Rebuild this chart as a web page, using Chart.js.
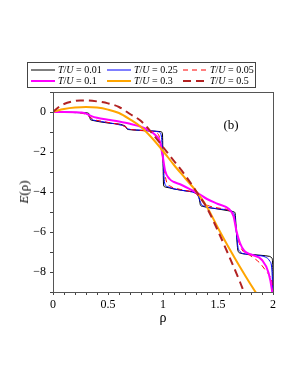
<!DOCTYPE html>
<html>
<head>
<meta charset="utf-8">
<script src="https://cdn.jsdelivr.net/npm/chart.js@4.4.0/dist/chart.umd.min.js"></script>
<style>
  html, body { margin:0; padding:0; background:#fff; }
  #wrap { position:relative; width:298px; height:385px; overflow:hidden; font-family:"Liberation Serif","DejaVu Serif",serif; }
  #c { position:absolute; left:0; top:0; }
  #legend { position:absolute; left:27px; top:62px; width:227px; height:24px; border:1px solid #444; box-sizing:content-box; }
  .item { position:absolute; height:11px; font-size:10px; line-height:11px; white-space:nowrap; color:#000; }
  .item svg { position:absolute; left:0; top:0; }
  .item span { position:absolute; left:28px; top:0; }
  .ytitle { position:absolute; left:24px; top:192px; transform:translate(-50%,-50%) rotate(-90deg); font-size:13px; white-space:nowrap; }
  .xtitle { position:absolute; left:163px; top:318px; transform:translate(-50%,-50%); font-size:14px; }
  .panel { position:absolute; left:231px; top:125px; transform:translate(-50%,-50%); font-size:13px; }
</style>
</head>
<body>
<div id="wrap">
  <canvas id="c" width="298" height="385"></canvas>
  <div id="legend"></div>
  <div class="ytitle"><i>E</i>(ρ)</div>
  <div class="xtitle">ρ</div>
  <div class="panel">(b)</div>
</div>
<script>
// ---- data ----
const seriesLabels = ['0.01', '0.25', '0.05', '0.1', '0.3', '0.5'];

const rho_001 = [0, 0.1, 0.2, 0.3, 0.325, 0.333, 0.34, 0.35, 0.5, 0.65, 0.66, 0.667, 0.675, 0.69, 0.8, 0.9, 0.98, 0.995, 1.0, 1.005, 1.02, 1.1, 1.2, 1.31, 1.325, 1.333, 1.34, 1.36, 1.5, 1.64, 1.655, 1.667, 1.68, 1.7, 1.8, 1.9, 1.97, 1.99, 1.997, 2.0];
const E_001   = [0, -0.01, -0.02, -0.04, -0.07, -0.23, -0.38, -0.41, -0.55, -0.68, -0.72, -0.8, -0.86, -0.88, -0.92, -0.95, -0.98, -1.1, -2.4, -3.65, -3.75, -3.85, -3.94, -4.05, -4.15, -4.45, -4.65, -4.72, -4.85, -4.98, -5.05, -6.0, -6.9, -7.05, -7.12, -7.17, -7.22, -7.3, -7.6, -9.5];

const rho_025 = [0, 0.1, 0.2, 0.28, 0.31, 0.333, 0.355, 0.38, 0.5, 0.62, 0.65, 0.667, 0.685, 0.72, 0.8, 0.9, 0.96, 0.985, 1.0, 1.015, 1.04, 1.1, 1.2, 1.29, 1.315, 1.333, 1.35, 1.38, 1.5, 1.6, 1.64, 1.655, 1.667, 1.68, 1.7, 1.75, 1.85, 1.93, 1.97, 1.99, 2.0];
const E_025   = [0, -0.01, -0.03, -0.05, -0.1, -0.25, -0.38, -0.42, -0.53, -0.66, -0.71, -0.78, -0.85, -0.88, -0.91, -0.95, -0.99, -1.2, -2.4, -3.55, -3.73, -3.84, -3.94, -4.05, -4.15, -4.4, -4.62, -4.72, -4.84, -4.92, -5.05, -5.3, -6.0, -6.7, -6.98, -7.1, -7.17, -7.25, -7.45, -7.9, -9.5];

const rho_005 = [0, 0.1, 0.2, 0.26, 0.3, 0.333, 0.37, 0.42, 0.5, 0.6, 0.64, 0.667, 0.7, 0.75, 0.85, 0.93, 0.97, 1.0, 1.03, 1.07, 1.15, 1.25, 1.3, 1.333, 1.37, 1.42, 1.5, 1.59, 1.62, 1.65, 1.667, 1.69, 1.72, 1.8, 1.88, 1.93, 1.97, 1.99, 2.0];
const E_005   = [0, -0.01, -0.03, -0.06, -0.12, -0.25, -0.37, -0.44, -0.52, -0.62, -0.69, -0.77, -0.86, -0.9, -0.95, -1.02, -1.3, -2.4, -3.45, -3.72, -3.86, -3.98, -4.08, -4.3, -4.55, -4.7, -4.8, -4.9, -5.05, -5.35, -5.9, -6.5, -6.9, -7.2, -7.55, -7.9, -8.2, -8.5, -9.3];

const rho_01 = [0, 0.1, 0.2, 0.26, 0.3, 0.355, 0.4, 0.5, 0.6, 0.7, 0.8, 0.88, 0.93, 0.97, 1.0, 1.02, 1.06, 1.1, 1.15, 1.26, 1.33, 1.4, 1.5, 1.6, 1.64, 1.67, 1.7, 1.74, 1.8, 1.9, 1.96, 1.99, 2.0];
const E_01   = [0, 0.0, -0.01, -0.03, -0.08, -0.22, -0.29, -0.39, -0.48, -0.59, -0.74, -0.95, -1.15, -1.45, -2.3, -2.95, -3.35, -3.5, -3.6, -3.9, -4.1, -4.35, -4.6, -4.85, -5.2, -6.0, -6.55, -6.95, -7.12, -7.4, -8.05, -8.9, -9.5];

const rho_03 = [0, 0.05, 0.1, 0.2, 0.3, 0.4, 0.5, 0.6, 0.7, 0.8, 0.9, 1.0, 1.1, 1.2, 1.3, 1.4, 1.5, 1.6, 1.7, 1.8, 1.9];
const E_03   = [0, 0.09, 0.15, 0.22, 0.25, 0.22, 0.12, -0.05, -0.37, -0.75, -1.3, -1.95, -2.65, -3.3, -3.95, -4.75, -5.8, -6.8, -7.75, -8.65, -9.5];

const rho_05 = [0, 0.05, 0.1, 0.2, 0.25, 0.3, 0.4, 0.5, 0.6, 0.7, 0.8, 0.9, 1.0, 1.1, 1.2, 1.3, 1.4, 1.5, 1.6, 1.7, 1.77];
const E_05   = [0, 0.24, 0.4, 0.55, 0.58, 0.58, 0.53, 0.43, 0.25, -0.1, -0.45, -1.05, -1.75, -2.45, -3.15, -3.95, -4.8, -5.95, -7.2, -8.5, -9.5];

const xTickValues = [0, 0.5, 1, 1.5, 2];
const xTickLabels = ['0', '0.5', '1', '1.5', '2'];
const yTickValues = [-8, -6, -4, -2, 0];
const yTickLabels = ['\u22128', '\u22126', '\u22124', '\u22122', '0'];

// ---- styles ----
const styles = [
  { color:'#000000', width:1,   dash:[] },
  { color:'#0000ff', width:1,   dash:[] },
  { color:'#ff0000', width:1,   dash:[5,4] },
  { color:'#ff00ff', width:2,   dash:[] },
  { color:'#ffa500', width:2,   dash:[] },
  { color:'#b22222', width:2,   dash:[8,5] }
];
const rhos = [rho_001, rho_025, rho_005, rho_01, rho_03, rho_05];
const Es   = [E_001, E_025, E_005, E_01, E_03, E_05];

const datasets = seriesLabels.map((lab, i) => ({
  label: 'T/U = ' + lab,
  data: rhos[i].map((r, k) => ({ x: r, y: Es[i][k] })),
  borderColor: styles[i].color,
  borderWidth: styles[i].width,
  borderDash: styles[i].dash,
  pointRadius: 0,
  fill: false,
  cubicInterpolationMode: 'monotone'
}));
const order = [5, 4, 3, 2, 1, 0];
const drawSets = order.map(i => datasets[i]);

// ---- legend (HTML) ----
const legendPos = [[2,1],[78,1],[154,1],[2,12],[78,12],[154,12]];
const legend = document.getElementById('legend');
seriesLabels.forEach((lab, i) => {
  const d = document.createElement('div');
  d.className = 'item';
  d.style.left = legendPos[i][0] + 'px';
  d.style.top = legendPos[i][1] + 'px';
  const s = styles[i];
  d.innerHTML = '<svg width="26" height="11"><line x1="1" y1="6" x2="25" y2="6" stroke="' + s.color +
    '" stroke-width="' + s.width + '" stroke-dasharray="' + (s.dash.length ? s.dash.join(',') : 'none') + '"/></svg>' +
    '<span><i>T</i>/<i>U</i> = ' + lab + '</span>';
  legend.appendChild(d);
});

const frame = {
  id: 'frame',
  afterDraw(chart) {
    const a = chart.chartArea, ctx = chart.ctx;
    ctx.save();
    ctx.strokeStyle = '#555';
    ctx.lineWidth = 1;
    ctx.strokeRect(Math.round(a.left) + 0.5, Math.round(a.top) + 0.5, Math.round(a.right - a.left), Math.round(a.bottom - a.top));
    ctx.restore();
  }
};

const near = (v, arr) => arr.findIndex(t => Math.abs(t - v) < 1e-6);

new Chart(document.getElementById('c'), {
  type: 'line',
  data: { datasets: drawSets },
  plugins: [frame],
  options: {
    responsive: false,
    animation: false,
    devicePixelRatio: 1,
    layout: { padding: { left: 0, right: 25, top: 92, bottom: 55 } },
    plugins: { legend: { display: false }, tooltip: { enabled: false } },
    scales: {
      x: {
        type: 'linear', min: 0, max: 2,
        afterFit(s) { s.height = 38; },
        border: { display: true, color: '#444', width: 1 },
        grid: { display: true, drawOnChartArea: false, drawTicks: true, tickLength: 3, tickColor: '#444' },
        ticks: {
          stepSize: 0.1, autoSkip: false, maxRotation: 0, padding: 3, color: '#000',
          font: { family: 'Liberation Serif', size: 12 },
          callback(v) { const k = near(v, xTickValues); return k >= 0 ? xTickLabels[k] : ''; }
        }
      },
      y: {
        type: 'linear', min: -9, max: 1,
        afterFit(s) { s.width = 53; },
        border: { display: true, color: '#444', width: 1 },
        grid: { display: true, drawOnChartArea: false, drawTicks: true, tickLength: 3, tickColor: '#444' },
        ticks: {
          stepSize: 1, autoSkip: false, padding: 4, color: '#000',
          font: { family: 'Liberation Serif', size: 12 },
          callback(v) { const k = near(v, yTickValues); return k >= 0 ? yTickLabels[k] : ''; }
        }
      }
    }
  }
});
</script>
</body>
</html>
